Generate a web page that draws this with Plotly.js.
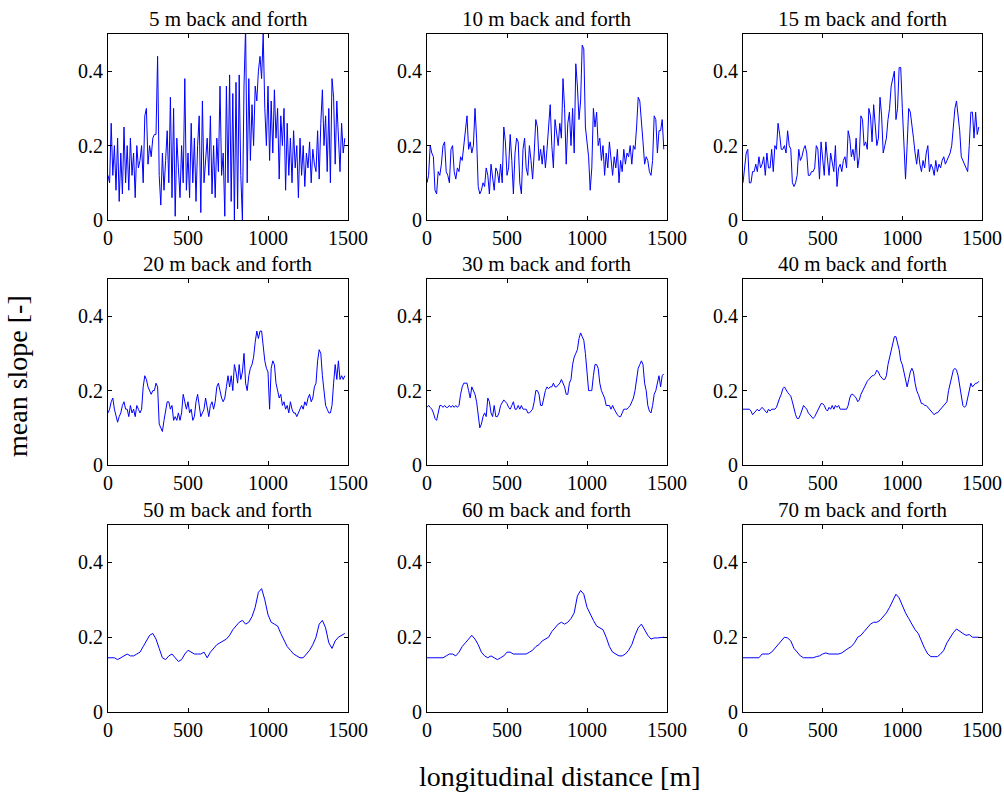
<!DOCTYPE html>
<html>
<head>
<meta charset="utf-8">
<script src="https://cdn.plot.ly/plotly-3.0.1.min.js"></script>
<style>html,body{margin:0;padding:0;background:#fff;}#chart{width:1004px;height:795px;}</style>
</head>
<body>
<div id="chart"></div>
<script>
// Distance grids (m)
const dist10 = [0,10,20,30,40,50,60,70,80,90,100,110,120,130,140,150,160,170,180,190,200,210,220,230,240,250,260,270,280,290,300,310,320,330,340,350,360,370,380,390,400,410,420,430,440,450,460,470,480,490,500,510,520,530,540,550,560,570,580,590,600,610,620,630,640,650,660,670,680,690,700,710,720,730,740,750,760,770,780,790,800,810,820,830,840,850,860,870,880,890,900,910,920,930,940,950,960,970,980,990,1000,1010,1020,1030,1040,1050,1060,1070,1080,1090,1100,1110,1120,1130,1140,1150,1160,1170,1180,1190,1200,1210,1220,1230,1240,1250,1260,1270,1280,1290,1300,1310,1320,1330,1340,1350,1360,1370,1380,1390,1400,1410,1420,1430,1440,1450,1460,1470,1480];
const dist20 = [0,20,40,60,80,100,120,140,160,180,200,220,240,260,280,300,320,340,360,380,400,420,440,460,480,500,520,540,560,580,600,620,640,660,680,700,720,740,760,780,800,820,840,860,880,900,920,940,960,980,1000,1020,1040,1060,1080,1100,1120,1140,1160,1180,1200,1220,1240,1260,1280,1300,1320,1340,1360,1380,1400,1420,1440,1460,1480];

// Mean slope [-] for each window
const slope5 = [0.12,0.10,0.26,0.12,0.20,0.08,0.22,0.05,0.18,0.07,
 0.25,0.10,0.20,0.08,0.22,0.12,0.18,0.06,0.20,0.14,
 0.16,0.20,0.10,0.28,0.30,0.15,0.20,0.17,0.22,0.23,
 0.23,0.44,0.12,0.04,0.18,0.08,0.16,0.24,0.10,0.33,
 0.06,0.30,0.01,0.22,0.14,0.06,0.20,0.10,0.38,0.08,
 0.18,0.06,0.26,0.10,0.22,0.05,0.20,0.28,0.02,0.32,
 0.10,0.16,0.22,0.12,0.28,0.07,0.20,0.06,0.22,0.13,
 0.36,0.12,0.18,0.01,0.36,0.10,0.39,0.05,0.34,0.00,
 0.37,0.03,0.39,0.12,0.00,0.36,0.52,0.10,0.38,0.16,
 0.31,0.20,0.36,0.32,0.40,0.44,0.38,0.50,0.30,0.20,
 0.36,0.16,0.32,0.18,0.35,0.22,0.30,0.11,0.28,0.20,
 0.30,0.08,0.26,0.12,0.22,0.10,0.24,0.14,0.20,0.06,
 0.22,0.12,0.20,0.09,0.18,0.14,0.21,0.10,0.19,0.15,
 0.13,0.24,0.11,0.26,0.35,0.20,0.28,0.13,0.30,0.10,
 0.38,0.33,0.15,0.32,0.24,0.13,0.26,0.18,0.22];
const slope10 = [0.10,0.12,0.20,0.18,0.17,0.08,0.07,0.13,0.12,0.15,
 0.20,0.21,0.13,0.12,0.10,0.19,0.20,0.13,0.11,0.14,
 0.13,0.17,0.16,0.20,0.25,0.28,0.19,0.21,0.18,0.20,
 0.30,0.22,0.09,0.07,0.08,0.10,0.09,0.14,0.12,0.07,
 0.15,0.12,0.08,0.14,0.13,0.10,0.15,0.10,0.25,0.21,
 0.12,0.14,0.23,0.16,0.07,0.18,0.22,0.21,0.10,0.07,
 0.19,0.22,0.14,0.12,0.20,0.16,0.11,0.18,0.27,0.25,
 0.16,0.19,0.15,0.20,0.14,0.19,0.25,0.31,0.20,0.14,
 0.27,0.24,0.20,0.26,0.22,0.38,0.30,0.15,0.26,0.29,
 0.20,0.30,0.18,0.42,0.36,0.27,0.32,0.47,0.46,0.25,
 0.20,0.17,0.08,0.14,0.30,0.25,0.29,0.20,0.22,0.16,
 0.20,0.12,0.18,0.14,0.21,0.16,0.12,0.17,0.14,0.19,
 0.10,0.16,0.13,0.19,0.15,0.18,0.17,0.20,0.15,0.20,
 0.19,0.25,0.33,0.32,0.25,0.21,0.15,0.17,0.16,0.13,
 0.12,0.16,0.28,0.27,0.18,0.24,0.24,0.27,0.19];
const slope15 = [0.10,0.14,0.18,0.19,0.10,0.10,0.13,0.13,0.15,0.13,
 0.17,0.14,0.15,0.17,0.12,0.18,0.14,0.14,0.19,0.13,
 0.20,0.19,0.26,0.23,0.19,0.19,0.20,0.18,0.24,0.20,
 0.19,0.10,0.09,0.10,0.12,0.19,0.16,0.17,0.19,0.20,
 0.18,0.12,0.12,0.13,0.13,0.14,0.20,0.19,0.11,0.21,
 0.17,0.12,0.21,0.16,0.12,0.18,0.15,0.13,0.20,0.09,
 0.14,0.15,0.13,0.16,0.17,0.14,0.24,0.22,0.17,0.19,
 0.16,0.22,0.14,0.17,0.28,0.27,0.20,0.21,0.19,0.30,
 0.28,0.21,0.31,0.26,0.20,0.22,0.33,0.28,0.18,0.20,
 0.22,0.27,0.30,0.36,0.38,0.40,0.27,0.30,0.41,0.41,
 0.30,0.22,0.11,0.20,0.30,0.29,0.26,0.22,0.18,0.15,
 0.19,0.15,0.13,0.16,0.14,0.18,0.20,0.13,0.15,0.14,
 0.12,0.16,0.13,0.15,0.14,0.16,0.17,0.15,0.16,0.17,
 0.18,0.20,0.26,0.30,0.32,0.28,0.24,0.17,0.16,0.15,
 0.14,0.13,0.20,0.29,0.29,0.22,0.29,0.23,0.25];
const slope20 = [0.14,0.15,0.17,0.18,0.15,0.13,0.115,0.13,0.14,0.16,
 0.17,0.15,0.15,0.13,0.16,0.14,0.15,0.13,0.16,0.15,
 0.14,0.15,0.21,0.24,0.23,0.21,0.20,0.19,0.20,0.20,
 0.22,0.21,0.11,0.10,0.09,0.12,0.15,0.17,0.17,0.15,
 0.16,0.12,0.13,0.12,0.14,0.12,0.14,0.19,0.17,0.15,
 0.17,0.14,0.15,0.12,0.13,0.17,0.19,0.16,0.13,0.14,
 0.15,0.18,0.15,0.13,0.16,0.17,0.15,0.17,0.21,0.22,
 0.20,0.18,0.17,0.18,0.21,0.24,0.21,0.24,0.20,0.27,
 0.25,0.22,0.27,0.23,0.25,0.30,0.22,0.20,0.24,0.26,
 0.27,0.29,0.33,0.36,0.34,0.36,0.36,0.32,0.28,0.26,
 0.25,0.15,0.26,0.28,0.27,0.22,0.20,0.18,0.19,0.16,
 0.17,0.15,0.16,0.14,0.17,0.15,0.14,0.14,0.13,0.14,
 0.15,0.16,0.15,0.17,0.16,0.18,0.19,0.17,0.18,0.21,
 0.22,0.28,0.31,0.30,0.24,0.20,0.16,0.15,0.14,0.14,
 0.16,0.22,0.27,0.23,0.28,0.23,0.24,0.23,0.24];
const slope30 = [0.155,0.16,0.155,0.15,0.14,0.125,0.12,0.14,0.16,0.16,
 0.155,0.16,0.155,0.155,0.16,0.155,0.16,0.155,0.16,0.155,
 0.16,0.19,0.21,0.22,0.22,0.22,0.20,0.18,0.21,0.20,
 0.19,0.17,0.14,0.10,0.11,0.13,0.14,0.13,0.18,0.17,
 0.14,0.13,0.16,0.13,0.13,0.14,0.16,0.17,0.175,0.17,
 0.165,0.155,0.15,0.16,0.17,0.15,0.15,0.16,0.15,0.16,
 0.15,0.15,0.15,0.14,0.14,0.145,0.15,0.17,0.20,0.20,
 0.19,0.16,0.16,0.18,0.20,0.21,0.205,0.21,0.21,0.22,
 0.21,0.21,0.215,0.22,0.23,0.22,0.21,0.19,0.19,0.22,
 0.23,0.27,0.29,0.30,0.31,0.34,0.355,0.345,0.335,0.30,
 0.25,0.20,0.20,0.20,0.24,0.27,0.27,0.26,0.22,0.20,
 0.19,0.18,0.16,0.16,0.16,0.15,0.16,0.15,0.14,0.135,
 0.13,0.13,0.14,0.15,0.15,0.15,0.155,0.16,0.17,0.18,
 0.20,0.23,0.26,0.27,0.28,0.27,0.22,0.20,0.16,0.145,
 0.14,0.16,0.19,0.20,0.22,0.24,0.21,0.24,0.245];
const slope40 = [0.15,0.15,0.15,0.15,0.15,0.145,0.135,0.14,0.145,0.15,
 0.145,0.15,0.155,0.15,0.145,0.14,0.15,0.145,0.15,0.15,
 0.15,0.155,0.17,0.18,0.19,0.205,0.21,0.20,0.195,0.19,
 0.185,0.17,0.15,0.135,0.125,0.125,0.135,0.15,0.16,0.155,
 0.15,0.14,0.135,0.13,0.125,0.13,0.14,0.15,0.16,0.165,
 0.165,0.16,0.15,0.145,0.155,0.15,0.16,0.15,0.16,0.155,
 0.16,0.15,0.15,0.15,0.15,0.15,0.16,0.18,0.19,0.19,
 0.185,0.18,0.17,0.175,0.19,0.20,0.21,0.22,0.225,0.23,
 0.235,0.24,0.24,0.245,0.255,0.25,0.24,0.235,0.23,0.23,
 0.24,0.27,0.29,0.31,0.33,0.345,0.345,0.33,0.31,0.28,
 0.27,0.25,0.23,0.21,0.23,0.25,0.26,0.25,0.22,0.20,
 0.19,0.175,0.165,0.165,0.16,0.16,0.155,0.15,0.145,0.14,
 0.135,0.14,0.14,0.145,0.15,0.155,0.16,0.165,0.17,0.20,
 0.22,0.24,0.255,0.26,0.255,0.24,0.21,0.18,0.16,0.155,
 0.16,0.18,0.20,0.22,0.21,0.215,0.22,0.22,0.225];
const slope50 = [0.145,0.145,0.145,0.14,0.145,0.15,0.155,0.15,0.15,0.155,
 0.16,0.175,0.19,0.205,0.21,0.195,0.17,0.145,0.14,0.15,
 0.155,0.145,0.135,0.14,0.155,0.165,0.16,0.155,0.155,0.155,
 0.16,0.145,0.16,0.17,0.18,0.185,0.19,0.195,0.205,0.22,
 0.23,0.24,0.245,0.235,0.24,0.255,0.28,0.32,0.33,0.30,
 0.26,0.24,0.235,0.23,0.21,0.19,0.175,0.165,0.155,0.15,
 0.145,0.145,0.155,0.165,0.18,0.20,0.235,0.245,0.225,0.185,
 0.17,0.19,0.20,0.205,0.21];
const slope60 = [0.145,0.145,0.145,0.145,0.145,0.145,0.15,0.155,0.155,0.15,
 0.16,0.175,0.185,0.195,0.205,0.195,0.18,0.16,0.15,0.145,
 0.15,0.145,0.14,0.145,0.15,0.16,0.16,0.155,0.155,0.155,
 0.155,0.155,0.16,0.165,0.175,0.18,0.19,0.195,0.20,0.215,
 0.225,0.235,0.24,0.235,0.24,0.25,0.265,0.31,0.325,0.315,
 0.28,0.26,0.245,0.23,0.225,0.22,0.20,0.175,0.16,0.155,
 0.15,0.15,0.155,0.165,0.18,0.205,0.225,0.235,0.22,0.205,
 0.195,0.198,0.198,0.20,0.20];
const slope70 = [0.145,0.145,0.145,0.145,0.145,0.145,0.155,0.155,0.155,0.16,
 0.17,0.18,0.19,0.20,0.198,0.19,0.17,0.16,0.15,0.145,
 0.145,0.145,0.145,0.148,0.15,0.155,0.158,0.155,0.155,0.155,
 0.155,0.158,0.165,0.17,0.175,0.185,0.20,0.205,0.215,0.225,
 0.235,0.24,0.24,0.245,0.255,0.265,0.28,0.30,0.315,0.305,
 0.285,0.265,0.25,0.235,0.22,0.21,0.19,0.17,0.155,0.148,
 0.148,0.148,0.155,0.165,0.185,0.20,0.212,0.222,0.215,0.21,
 0.205,0.207,0.20,0.20,0.20];

const panelTitles = ["5 m back and forth","10 m back and forth","15 m back and forth",
  "20 m back and forth","30 m back and forth","40 m back and forth",
  "50 m back and forth","60 m back and forth","70 m back and forth"];
const panelX = [dist10,dist10,dist10,dist10,dist10,dist10,dist20,dist20,dist20];
const panelY = [slope5,slope10,slope15,slope20,slope30,slope40,slope50,slope60,slope70];
const xTicks = [0,500,1000,1500];
const yTicks = [0,0.2,0.4];
const yTickText = ["0","0.2","0.4"];

const W = 1004, H = 795;
const colL = [108,427,743], colR = [348,667,982];
const rowT = [34,279,525], rowB = [220,465,712];
const FONT = "Liberation Serif, Times New Roman, serif";

const traces = [];
const layout = {
  width: W, height: H,
  margin: {l:0,r:0,t:0,b:0},
  paper_bgcolor: "#fff", plot_bgcolor: "#fff",
  showlegend: false,
  font: {family: FONT, size: 20, color: "#000"},
  annotations: []
};
for (let i = 0; i < 9; i++) {
  const r = Math.floor(i/3), c = i % 3;
  const sfx = i === 0 ? "" : String(i+1);
  traces.push({
    x: panelX[i], y: panelY[i], type: "scatter", mode: "lines",
    xaxis: "x"+sfx, yaxis: "y"+sfx,
    line: {color: "#0000ff", width: 1}, hoverinfo: "skip"
  });
  const common = {
    showline: true, linecolor: "#000", linewidth: 1, mirror: "ticks",
    ticks: "inside", ticklen: 4, tickwidth: 1, tickcolor: "#000",
    showgrid: false, zeroline: false, fixedrange: true,
    ticklabeloverflow: "allow",
    tickfont: {family: FONT, size: 20, color: "#000"}
  };
  layout["xaxis"+sfx] = Object.assign({}, common, {
    domain: [colL[c]/W, colR[c]/W], anchor: "y"+sfx,
    range: [0,1500], tickmode: "array", tickvals: xTicks, ticktext: xTicks.map(String)
  });
  layout["yaxis"+sfx] = Object.assign({}, common, {
    domain: [1-rowB[r]/H, 1-rowT[r]/H], anchor: "x"+sfx,
    range: [0,0.5], tickmode: "array", tickvals: yTicks, ticktext: yTickText
  });
  layout.annotations.push({
    text: panelTitles[i], xref: "paper", yref: "paper",
    x: (colL[c]+colR[c])/2/W, y: 1-rowT[r]/H, xanchor: "center", yanchor: "bottom",
    yshift: 1, showarrow: false, font: {family: FONT, size: 21, color: "#000"}
  });
}
layout.annotations.push({
  text: "mean slope [-]", xref: "paper", yref: "paper", x: 17/W, y: 1-376/H,
  xanchor: "center", yanchor: "middle", textangle: -90, showarrow: false,
  font: {family: FONT, size: 28, color: "#000"}
});
layout.annotations.push({
  text: "longitudinal distance [m]", xref: "paper", yref: "paper", x: 560/W, y: 1-776/H,
  xanchor: "center", yanchor: "middle", showarrow: false,
  font: {family: FONT, size: 28, color: "#000"}
});

Plotly.newPlot("chart", traces, layout, {displayModeBar: false, staticPlot: true});
</script>
</body>
</html>
